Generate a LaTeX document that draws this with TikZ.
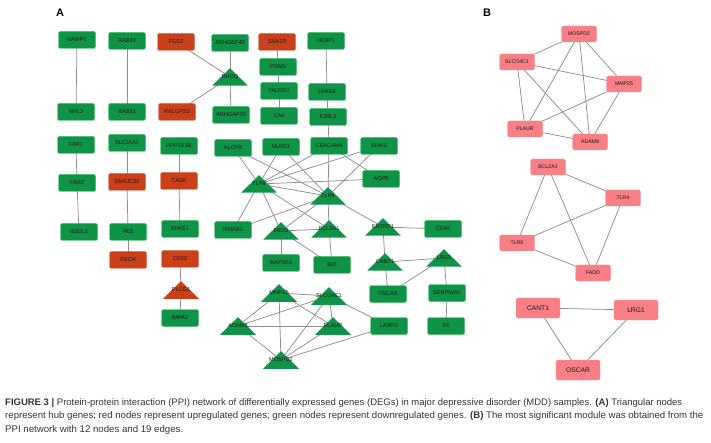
\documentclass[tikz,border=0pt]{standalone}
\usepackage{fontspec}
\setmainfont{Liberation Sans}
\usetikzlibrary{backgrounds}
\definecolor{gn}{HTML}{0F9447}
\definecolor{gnb}{HTML}{3DBF6A}
\definecolor{rd}{HTML}{C9401A}
\definecolor{pk}{HTML}{F77F85}
\definecolor{eg}{HTML}{8E8E8E}
\definecolor{cap}{HTML}{333333}
\begin{document}
\begin{tikzpicture}[x=1pt,y=-1pt,
  gbox/.style={rectangle, rounded corners=1.5pt, fill=gn, draw=gnb, line width=0.4pt,
    minimum width=37pt, minimum height=17pt, inner sep=0pt,
    font=\fontsize{5.6}{6}\selectfont, text=black!90},
  rbox/.style={gbox, fill=rd, draw=rd!75!white},
  gtri/.style={rectangle, minimum width=36pt, minimum height=17.5pt, inner sep=0pt,
    font=\fontsize{5.6}{6}\selectfont, text=black!90,
    path picture={\fill[gn] (path picture bounding box.south west) -- (path picture bounding box.south east) -- (path picture bounding box.north) -- cycle;}},
  rtri/.style={gtri,
    path picture={\fill[rd] (path picture bounding box.south west) -- (path picture bounding box.south east) -- (path picture bounding box.north) -- cycle;}},
  pbox/.style={rectangle, rounded corners=1.5pt, fill=pk, draw=pk!80!white, line width=0.3pt,
    minimum width=35pt, minimum height=16pt, inner sep=0pt,
    font=\fontsize{5.2}{6}\selectfont, text=black!90},
  pboxl/.style={pbox, minimum width=44pt, minimum height=20pt, font=\fontsize{6.7}{7}\selectfont},
  edge/.style={draw=eg, line width=0.75pt},
  plabel/.style={font=\bfseries\fontsize{11}{12}\selectfont, inner sep=0pt},
  capline/.style={anchor=base west, inner sep=0pt, text=cap, font=\fontsize{9}{10}\selectfont}
]
\useasboundingbox (0,0) rectangle (711,443);

\node[plabel] (labA) at (60,13) {A};
\node[plabel] (labB) at (487,13) {B};

% ---------- Panel A nodes ----------
\node[gbox] (NAMPT) at (77,40) {NAMPT};
\node[gbox] (RAB20) at (127,41) {RAB20};
\node[rbox] (FGD2) at (176,42) {FGD2};
\node[gbox] (ARHGEF40) at (230,43) {ARHGEF40};
\node[gtri] (RHOQ) at (230,77) {RHOQ};
\node[rbox] (SNX29) at (277,42) {SNX29};
\node[gbox] (HEBP1) at (326,41) {HEBP1};
\node[gbox] (PGM2) at (278,67) {PGM2};
\node[gbox] (TALDO1) at (279,91) {TALDO1};
\node[gbox] (CA4) at (279,116) {CA4};
\node[gbox] (LPAR2) at (327,92) {LPAR2};
\node[gbox] (F2RL1) at (328,117) {F2RL1};
\node[gbox] (ARHGAP26) at (231,115) {ARHGAP26};
\node[gbox] (NHL3) at (76,112) {NHL3};
\node[gbox] (RAB31) at (127,112) {RAB31};
\node[rbox] (RALGPS2) at (177,112) {RALGPS2};
\node[gbox] (FAR1) at (76,145) {FAR1};
\node[gbox] (SLC31A1) at (127,143) {SLC31A1};
\node[gbox] (PPP1R3B) at (179,146) {PPP1R3B};
\node[gbox] (ALOX5) at (233,148) {ALOX5};
\node[gbox] (NLRX1) at (281,147) {NLRX1};
\node[gbox] (CEACAM4) at (329,146) {CEACAM4};
\node[gbox] (IRAK3) at (379,146) {IRAK3};
\node[gbox] (AQP9) at (381,179) {AQP9};
\node[gtri] (TLR8) at (259,184) {TLR8};
\node[gtri] (TLR4) at (328,196) {TLR4};
\node[gbox] (IFNAR1) at (233,230) {IFNAR1};
\node[gtri] (FADD) at (281,231) {FADD};
\node[gtri] (BCL2A1) at (329,229) {BCL2A1};
\node[gtri] (ENTPD1) at (383,227) {ENTPD1};
\node[gbox] (CD46) at (443,229) {CD46};
\node[gbox] (MAP2K4) at (281,263) {MAP2K4};
\node[gbox] (BID) at (332,265) {BID};
\node[gtri] (CANT1) at (385,262) {CANT1};
\node[gtri] (LRG1) at (444,258) {LRG1};
\node[gbox] (OSCAR) at (388,294) {OSCAR};
\node[gbox] (SERPINA1) at (447,293) {SERPINA1};
\node[gbox] (LAMP2) at (389,326) {LAMP2};
\node[gbox] (F5) at (446,326) {F5};
\node[gtri] (MMP25) at (279,293) {MMP25};
\node[gtri] (SLCO4C1) at (329,296) {SLCO4C1};
\node[gtri] (ADAM8) at (238,326) {ADAM8};
\node[gtri] (PLAUR) at (333,326) {PLAUR};
\node[gtri] (MOSPD2) at (281,360) {MOSPD2};
\node[gbox] (FAR2) at (77,183) {FAR2};
\node[rbox] (DNAJC30) at (127,182) {DNAJC30};
\node[rbox] (CASK) at (179,181) {CASK};
\node[gbox] (HSDL2) at (79,232) {HSDL2};
\node[gbox] (FES) at (128,232) {FES};
\node[gbox] (EPAS1) at (180,229) {EPAS1};
\node[rbox] (FECH) at (128,260) {FECH};
\node[rbox] (CD22) at (180,259) {CD22};
\node[rtri] (PLCG1) at (181,290) {PLCG1};
\node[gbox] (IMPA2) at (180,318) {IMPA2};

% ---------- Panel B nodes ----------
\node[pbox] (bMOSPD2) at (579,34) {MOSPD2};
\node[pbox] (bSLCO4C1) at (517,62) {SLCO4C1};
\node[pbox] (bMMP25) at (624,84) {MMP25};
\node[pbox] (bPLAUR) at (525,129) {PLAUR};
\node[pbox] (bADAM8) at (590,142) {ADAM8};
\node[pbox] (bBCL2A1) at (548,167) {BCL2A1};
\node[pbox] (bTLR4) at (623,198) {TLR4};
\node[pbox] (bTLR8) at (517,243) {TLR8};
\node[pbox] (bFADD) at (593,273) {FADD};
\node[pboxl] (bCANT1) at (538,308) {CANT1};
\node[pboxl] (bLRG1) at (636,310) {LRG1};
\node[pboxl] (bOSCAR) at (578,370) {OSCAR};

% ---------- Edges ----------
\begin{scope}[on background layer]
\foreach \a/\b in {NAMPT/NHL3, RAB20/RAB31, FGD2/RHOQ, ARHGEF40/RHOQ, RALGPS2/RHOQ, RHOQ/ARHGAP26,
  SNX29/PGM2, PGM2/TALDO1, TALDO1/CA4, HEBP1/LPAR2, LPAR2/F2RL1, F2RL1/CEACAM4,
  FAR1/FAR2, FAR2/HSDL2, SLC31A1/DNAJC30, DNAJC30/FES, FES/FECH, PPP1R3B/CASK, CASK/EPAS1,
  CD22/PLCG1, PLCG1/IMPA2,
  ALOX5/TLR8, ALOX5/TLR4, NLRX1/TLR8, NLRX1/TLR4, CEACAM4/TLR8, CEACAM4/TLR4, CEACAM4/AQP9,
  IRAK3/TLR8, IRAK3/TLR4, AQP9/TLR8, TLR8/TLR4, TLR8/IFNAR1, TLR8/FADD, TLR8/BCL2A1,
  TLR4/IFNAR1, TLR4/FADD, TLR4/BCL2A1, TLR4/ENTPD1, FADD/BCL2A1, FADD/MAP2K4, FADD/BID,
  BCL2A1/BID, ENTPD1/CD46, ENTPD1/CANT1, CANT1/LRG1, CANT1/OSCAR, LRG1/OSCAR, LRG1/SERPINA1,
  SERPINA1/F5,
  MMP25/SLCO4C1, MMP25/ADAM8, MMP25/MOSPD2, MMP25/PLAUR, SLCO4C1/ADAM8, SLCO4C1/PLAUR,
  SLCO4C1/MOSPD2, SLCO4C1/LAMP2, ADAM8/PLAUR, ADAM8/MOSPD2, PLAUR/MOSPD2, LAMP2/MOSPD2,
  bMOSPD2/bSLCO4C1, bMOSPD2/bMMP25, bMOSPD2/bPLAUR, bMOSPD2/bADAM8, bSLCO4C1/bMMP25,
  bSLCO4C1/bPLAUR, bSLCO4C1/bADAM8, bMMP25/bPLAUR, bMMP25/bADAM8, bPLAUR/bADAM8,
  bBCL2A1/bTLR4, bBCL2A1/bTLR8, bBCL2A1/bFADD, bTLR4/bTLR8, bTLR4/bFADD, bTLR8/bFADD,
  bCANT1/bLRG1, bCANT1/bOSCAR, bLRG1/bOSCAR}
  \draw[edge] (\a.center) -- (\b.center);
\end{scope}

% ---------- Caption ----------
\node[capline] (cap1) at (5,405) {\resizebox{677pt}{!}{\textbf{FIGURE 3 |} Protein-protein interaction (PPI) network of differentially expressed genes (DEGs) in major depressive disorder (MDD) samples. \textbf{(A)} Triangular nodes}};
\node[capline] (cap2) at (5,418) {\resizebox{698pt}{!}{represent hub genes; red nodes represent upregulated genes; green nodes represent downregulated genes. \textbf{(B)} The most significant module was obtained from the}};
\node[capline] (cap3) at (5,432) {\resizebox{178pt}{!}{PPI network with 12 nodes and 19 edges.}};
\end{tikzpicture}
\end{document}
